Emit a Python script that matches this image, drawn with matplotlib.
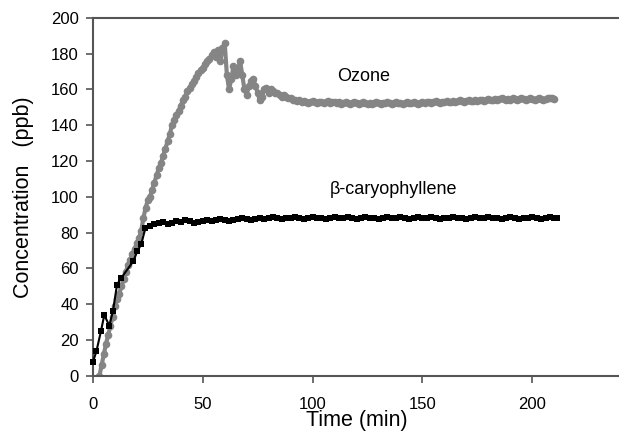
"""
Ozone and beta-caryophyllene concentration over time
"""
import matplotlib
matplotlib.use("Agg")
import matplotlib.pyplot as plt

# beta-caryophyllene: sparse early readings, then every 2 min
bcp_time = [0, 1.6, 3.7, 5.2, 7.5, 9.2, 11, 12.8, 18.4, 20.2, 22, 23.9] + list(range(26, 211, 2)) + [211]
bcp_conc = [7.6, 13.6, 25, 34, 28, 36.5, 51, 54.5, 64, 69.5, 73.5, 82.5,
            84, 85, 85.5, 86, 85, 85.5, 86.5, 86, 87, 86.5,
            85.5, 86, 86.5, 87, 86.5, 87, 87.5, 87, 86.5, 87,
            87.5, 88, 87.5, 87, 87.5, 88, 87.5, 88, 88.5, 88,
            87.5, 88, 88, 88.5, 88, 87.5, 88, 88.5, 88, 88,
            87.5, 88, 88.5, 88, 88, 88.5, 88, 87.5, 88, 88.5,
            88, 88, 87.5, 88, 88.5, 88, 88, 88.5, 88, 87.5,
            88, 88.5, 88, 88, 88.5, 88, 87.5, 88, 88, 88.5,
            88, 88, 87.5, 88, 88.5, 88, 88, 88.5, 88, 88,
            87.5, 88, 88.5, 88, 87.5, 88, 88, 88.5, 88, 87.5,
            88, 88.5, 88, 88]

# ozone, one reading per minute from t = 3 min
ozone_time = list(range(3, 211))
ozone_conc = [0, 6, 12, 18, 23, 28, 33, 39, 43, 46, 50, 54, 58, 62, 65, 68, 71, 74, 77, 81,
              88, 94, 98, 100, 104, 108, 112, 116, 119, 123, 127, 131, 135, 140, 143, 146, 148, 151, 154, 156,
              159, 161, 163, 165, 167, 169, 171, 172, 174, 176, 177, 179, 181, 178, 182, 176, 183, 186, 168, 160,
              166, 173, 168, 171, 176, 168, 160, 157, 162, 165, 166, 162, 158, 154, 156, 160, 161, 158, 160, 159,
              158, 158, 157, 156, 157, 156, 155, 155, 154, 154, 153.5, 154, 153, 153.5, 153, 152.5, 153, 153.5, 153, 152.5,
              153, 153, 152.5, 153, 153.5, 152.5, 153, 153, 152.5, 153, 152, 152.5, 153, 152.5, 152, 152.5, 153, 152.5, 152, 152.5,
              153, 152.5, 152, 152.5, 152, 152.5, 153, 152.5, 152, 152.5, 152.5, 153, 152.5, 152, 152.5, 153, 152.5, 152.5, 152, 152.5,
              153, 152.5, 152.5, 153, 152.5, 152, 152.5, 153, 152.5, 153, 153, 152.5, 153, 153.5, 153, 152.5, 153, 153, 153.5, 153,
              153, 153.5, 153, 153.5, 154, 153.5, 153, 153.5, 154, 153.5, 153.5, 154, 153.5, 154, 154, 153.5, 154, 154.5, 154, 154,
              154.5, 154, 154.5, 155, 154.5, 154, 154.5, 154, 155, 154.5, 154, 154.5, 155, 154.5, 154, 154.5, 155, 154.5, 154, 154.5,
              155, 154.5, 154, 154.5, 155, 155.5, 155, 154.5]

x_ticks = [0, 50, 100, 150, 200]
y_ticks = list(range(0, 201, 20))

plt.rcParams['font.family'] = ['Liberation Sans', 'DejaVu Sans']

fig = plt.figure(figsize=(6.19, 4.37), dpi=100)
ax = fig.add_axes([0.150, 0.140, 0.852, 0.819])

ax.plot(ozone_time, ozone_conc, color='#858585', marker='o', markersize=5.5,
        linewidth=3, markeredgewidth=0, zorder=2)
ax.plot(bcp_time, bcp_conc, color='black', marker='s', markersize=4.2,
        linewidth=1.5, markeredgewidth=0, zorder=3, clip_on=False)

ax.text(123, 167, 'Ozone', fontsize=13, ha='center', va='center')
ax.text(137, 104, 'β-caryophyllene', fontsize=13, ha='center', va='center')

ax.set_xlim(0, 240)
ax.set_ylim(0, 200)
ax.set_xticks(x_ticks)
ax.set_yticks(y_ticks)
ax.tick_params(labelsize=12, direction='out', length=5, width=1.2, color='#555555')
ax.tick_params(axis='x', pad=10)
ax.tick_params(axis='y', pad=5)
ax.set_xlabel('Time (min)', fontsize=15.5, labelpad=-1)
ax.set_ylabel('Concentration   (ppb)', fontsize=15.5, labelpad=12)

for side in ['left', 'bottom', 'top']:
    ax.spines[side].set_color('#555555')
    ax.spines[side].set_linewidth(1.5)
ax.spines['right'].set_visible(False)

plt.savefig('out.png', dpi=100)
plt.close(fig)
